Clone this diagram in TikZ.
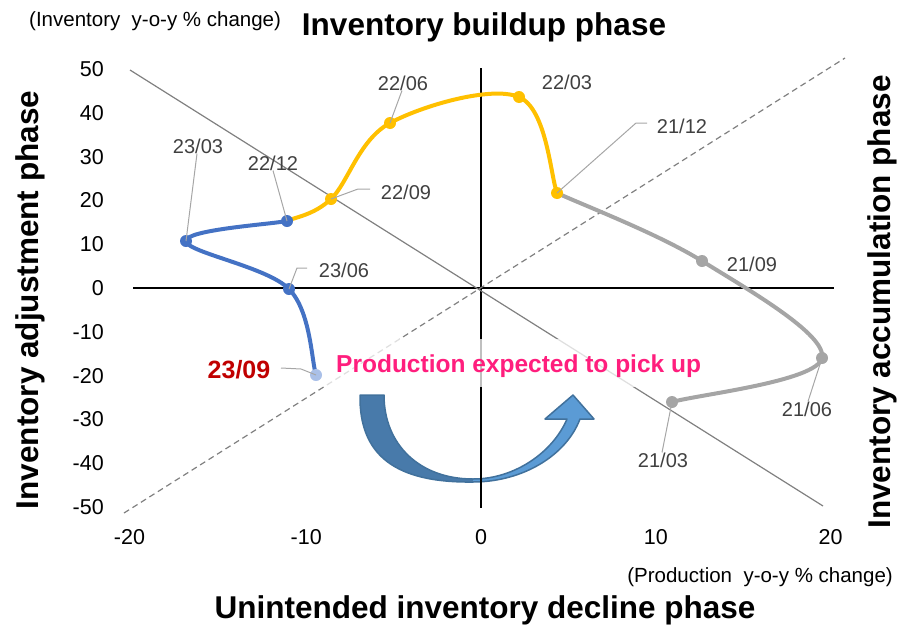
\documentclass[tikz,border=0pt]{standalone}
\usepackage{fontspec}
\setmainfont{Liberation Sans}
\definecolor{ygold}{RGB}{255,192,0}
\definecolor{bblue}{RGB}{68,114,196}
\definecolor{ggray}{RGB}{165,165,165}
\definecolor{labgray}{RGB}{64,64,64}
\definecolor{leadgray}{RGB}{166,166,166}
\definecolor{diaggray}{RGB}{128,128,128}
\definecolor{pinktxt}{RGB}{255,30,125}
\definecolor{darkred}{RGB}{192,0,0}
\definecolor{arrdark}{RGB}{72,122,170}
\definecolor{arrlight}{RGB}{91,155,213}
\definecolor{arrline}{RGB}{65,113,156}
\definecolor{lightblue}{RGB}{170,192,232}
\begin{document}
\begin{tikzpicture}[x=1pt,y=-1pt,
  ticklab/.style={font=\fontsize{21.5}{24}\selectfont, inner sep=0pt},
  ptlab/.style={font=\fontsize{20}{24}\selectfont, text=labgray, inner sep=0pt},
  phase/.style={font=\bfseries\fontsize{31.5}{36}\selectfont, inner sep=0pt},
  unitlab/.style={font=\fontsize{20.5}{24}\selectfont, inner sep=0pt},
  leader/.style={draw=leadgray, line width=1pt},
  curve/.style={line width=4pt, line cap=round, line join=round},
  axisline/.style={draw=black, line width=1.3pt},
  diag/.style={draw=diaggray, line width=1.2pt},
  pinklab/.style={font=\bfseries\fontsize{24.5}{28}\selectfont, text=pinktxt, inner sep=0pt}
]
\useasboundingbox (0,0) rectangle (899,624);

% curved arrow (behind the chart)
\fill[arrdark] (360,395) .. controls (359,455) and (395,483) .. (473,482)
  -- (473,479) .. controls (420,479) and (384,445) .. (384,395) -- cycle;
\fill[arrlight] (473,482) .. controls (522,482) and (566,456) .. (580,419)
  -- (594,419) -- (573,395) -- (545,419) -- (567,419)
  .. controls (553,452) and (515,479) .. (473,479) -- cycle;
\draw[arrline, line width=1.5pt, line join=round]
  (360,395) .. controls (359,455) and (395,483) .. (473,482)
  .. controls (522,482) and (566,456) .. (580,419)
  -- (594,419) -- (573,395) -- (545,419) -- (567,419)
  .. controls (553,452) and (515,479) .. (473,479)
  .. controls (420,479) and (384,445) .. (384,395) -- cycle;

% axes
\coordinate (xl) at (133,288);
\coordinate (xr) at (834,288);
\coordinate (yt) at (481,68);
\coordinate (yb) at (481,508);
\draw[axisline] (xl) -- (xr);
\draw[axisline] (yt) -- (yb);

% diagonals
\coordinate (d1a) at (130,70);
\coordinate (d1b) at (823,506);
\coordinate (d2a) at (124,513);
\coordinate (d2b) at (845,58);
\draw[diag] (d1a) -- (d1b);
\draw[diag, dash pattern=on 6pt off 4pt] (d2a) -- (d2b);

% tick labels
\foreach \v in {50,40,30,20,10,0,-10,-20,-30,-40,-50}
  \node[ticklab, anchor=east] (yt\v) at (104,{288-4.38*\v}) {\v};
\foreach \v/\dx in {-20/-2,-10/0,0/0,10/0,20/0}
  \node[ticklab] (xt\v) at ({481+17.475*\v+\dx},537) {\v};

% semi-transparent text box
\fill[white, fill opacity=0.75] (324,339) rectangle (703,387);
\node[pinklab, anchor=base west] (pick) at (336,372) {Production expected to pick up};

% data points
\coordinate (p2103) at (672,402);
\coordinate (p2106) at (822,358);
\coordinate (p2109) at (702,261);
\coordinate (p2112) at (557,193);
\coordinate (p2203) at (519,97);
\coordinate (p2206) at (390,123);
\coordinate (p2209) at (331,199);
\coordinate (p2212) at (287,221);
\coordinate (p2303) at (186,241);
\coordinate (p2306) at (289,289);
\coordinate (p2309) at (316,375);

% curves
\draw[curve, ggray] (p2103) .. controls (697,394.7) and (817,381.5) .. (p2106)
  .. controls (827,334.5) and (746.2,288.5) .. (p2109)
  .. controls (657.8,233.5) and (581.2,204.3) .. (p2112);
\draw[curve, ygold] (p2112) .. controls (550.7,177) and (546.8,108.7) .. (p2203)
  .. controls (491.2,85.3) and (421.3,106) .. (p2206)
  .. controls (358.7,140) and (348.2,182.7) .. (p2209)
  .. controls (313.8,215.3) and (294.3,217.3) .. (p2212);
\draw[curve, bblue] (p2212) .. controls (270.2,224.3) and (185.7,229.7) .. (p2303)
  .. controls (186.3,252.3) and (267.3,266.7) .. (p2306)
  .. controls (310.7,311.3) and (311.5,360.7) .. (p2309);

% markers
\foreach \p in {p2103,p2106,p2109} \fill[ggray] (\p) circle[radius=6pt];
\foreach \p in {p2112,p2203,p2206,p2209} \fill[ygold] (\p) circle[radius=6pt];
\foreach \p in {p2212,p2303,p2306} \fill[bblue] (\p) circle[radius=6pt];
\fill[lightblue] (p2309) circle[radius=6pt];

% point labels
\node[ptlab] (l2103) at (663,460) {21/03};
\node[ptlab] (l2106) at (807,409) {21/06};
\node[ptlab] (l2109) at (752,264) {21/09};
\node[ptlab] (l2112) at (682,126) {21/12};
\node[ptlab] (l2203) at (567,82) {22/03};
\node[ptlab] (l2206) at (403,83) {22/06};
\node[ptlab] (l2209) at (406,192) {22/09};
\node[ptlab] (l2212) at (273,163) {22/12};
\node[ptlab] (l2303) at (198,146) {23/03};
\node[ptlab] (l2306) at (344,270) {23/06};
\node[font=\bfseries\fontsize{25}{28}\selectfont, text=darkred, inner sep=0pt] (l2309) at (239,370) {23/09};

% leaders
\coordinate (e2209a) at (358,189);
\coordinate (e2209b) at (370,189);
\coordinate (e2306a) at (297,268);
\coordinate (e2306b) at (307,268);
\coordinate (e2112a) at (636,123);
\coordinate (e2112b) at (647,123);
\coordinate (e2309a) at (301,369);
\coordinate (e2309b) at (281,368);
\draw[leader] (l2206.south) ++(-1,0) -- (p2206);
\draw[leader] (l2303.south) ++(-1,0) -- (p2303);
\draw[leader] (l2212.south) -- (p2212);
\draw[leader] (p2209) -- (e2209a) -- (e2209b);
\draw[leader] (p2306) -- (e2306a) -- (e2306b);
\draw[leader] (p2112) -- (e2112a) -- (e2112b);
\draw[leader] (p2106) -- ([xshift=1pt]l2106.north);
\draw[leader] (p2103) -- ([xshift=-1pt]l2103.north);
\draw[leader] (e2309b) -- (e2309a) -- (p2309);

% titles
\node[phase, anchor=base] (ttop) at (484,35) {Inventory buildup phase};
\node[phase, anchor=base] (tbot) at (485,618) {Unintended inventory decline phase};
\node[phase, rotate=90, anchor=base] (tleft) at (38,300) {Inventory adjustment phase};
\node[phase, rotate=90, anchor=base] (tright) at (890,302) {Inventory accumulation phase};
\node[unitlab, anchor=base west] (uy) at (29,26) {(Inventory\ \ y-o-y \% change)};
\node[unitlab, anchor=base east] (ux) at (893,582) {(Production\ \ y-o-y \% change)};
\end{tikzpicture}
\end{document}
